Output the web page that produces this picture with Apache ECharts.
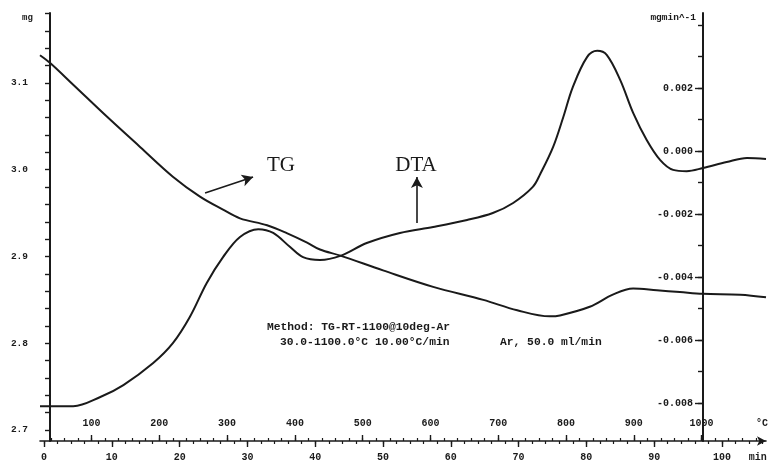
<!DOCTYPE html>
<html>
<head>
<meta charset="utf-8">
<title>TG / DTA</title>
<script src="https://cdn.jsdelivr.net/npm/echarts@6/dist/echarts.min.js"></script>
<style>
  html, body { margin: 0; padding: 0; background: #fff; }
  #chart { width: 776px; height: 463px; }
</style>
</head>
<body>
<div id="chart"></div>
<script>
// TG curve: time (min) vs mass (mg)
const tgTime = [-0.6, 0.9, 4.3, 9.3, 14.2, 19.0, 23.0, 26.4, 28.9, 32.9, 35.8, 38.8, 40.7, 43.7, 50.0,
  57.4, 64.8, 69.8, 74.6, 76.1, 80.5, 83.9, 86.9, 90.4, 93.8, 97.2, 102.7, 106.5];
const tgMass = [3.132, 3.123, 3.098, 3.061, 3.026, 2.992, 2.969, 2.954, 2.944, 2.936, 2.927, 2.916, 2.908, 2.901, 2.884,
  2.865, 2.850, 2.838, 2.831, 2.832, 2.842, 2.856, 2.863, 2.861, 2.859, 2.857, 2.856, 2.853];

// DTA curve: time (min) vs signal (mg/min)
const dtaTime = [-0.6, 4.3, 8.3, 11.7, 16.1, 19.0, 21.5, 24.0, 26.4, 28.9, 31.6, 33.8, 36.3, 38.2, 40.7,
  43.7, 47.6, 52.5, 57.4, 62.4, 66.2, 69.2, 72.1, 73.2, 75.1, 76.6, 78.0, 80.1, 81.6, 83.0,
  85.0, 86.9, 88.9, 90.9, 92.8, 94.8, 97.2, 100.7, 103.7, 106.5];
const dtaSignal = [-0.00810, -0.00810, -0.00781, -0.00743, -0.00673, -0.00610, -0.00527, -0.00419, -0.00337, -0.00273,
  -0.00248, -0.00260, -0.00305, -0.00337, -0.00346, -0.00333, -0.00292, -0.00260, -0.00241, -0.00219,
  -0.00197, -0.00165, -0.00114, -0.00073, 0.00013, 0.00108, 0.00203, 0.00298, 0.00318, 0.00305,
  0.00225, 0.00121, 0.00035, -0.00029, -0.00060, -0.00064, -0.00054, -0.00035, -0.00022, -0.00025];

// tick labels
const massTicks = [2.7, 2.8, 2.9, 3.0, 3.1];
const signalTicks = [-0.008, -0.006, -0.004, -0.002, 0.000, 0.002];
const timeTicks = [0, 10, 20, 30, 40, 50, 60, 70, 80, 90, 100];
const tempTicks = [100, 200, 300, 400, 500, 600, 700, 800, 900, 1000];

const startTemp = 30;   // °C
const heatRate = 10;    // °C/min
const timeMin = -0.6, timeMax = 106.5;
const tempMin = startTemp + heatRate * timeMin;
const tempMax = startTemp + heatRate * timeMax;

const ink = '#1a1a1a';
const tickFont = { fontFamily: 'Liberation Mono', fontWeight: 'bold', fontSize: 10, color: ink };

// minor tick positions
const massMinor = [];
for (let i = 0; i <= 24; i++) massMinor.push(+(2.7 + 0.02 * i).toFixed(2));
const signalMinor = [];
for (let i = -8; i <= 4; i++) signalMinor.push(+(i * 0.001).toFixed(3));
const timeMinor = [];
for (let t = 0; t <= 106; t += 2) timeMinor.push(t);
const tempMinor = [];
for (let T = 40; T <= 1080; T += 20) tempMinor.push(T);

const chart = echarts.init(document.getElementById('chart'));

const hidden = { show: false };
const noLine = { show: false, onZero: false };

chart.setOption({
  animation: false,
  backgroundColor: '#fff',
  grid: { left: 40, right: 10, top: 13, bottom: 22 },
  xAxis: [
    {
      type: 'value', position: 'bottom', min: timeMin, max: timeMax,
      axisLine: { show: true, onZero: false, symbol: ['none', 'arrow'], symbolSize: [7, 9], lineStyle: { color: ink, width: 1.6 } },
      axisTick: { show: true, customValues: timeTicks, length: 6, lineStyle: { color: ink, width: 1.4 } },
      axisLabel: {
        customValues: timeTicks.concat([105.3]), margin: 11, ...tickFont,
        formatter: (v) => (v > 101 ? 'min' : String(v))
      },
      splitLine: hidden
    },
    {
      type: 'value', position: 'bottom', min: timeMin, max: timeMax,
      axisLine: noLine,
      axisTick: { show: true, customValues: timeMinor, length: 3, lineStyle: { color: ink, width: 1.2 } },
      axisLabel: hidden, splitLine: hidden
    },
    {
      type: 'value', position: 'bottom', min: tempMin, max: tempMax,
      axisLine: noLine,
      axisTick: { show: true, inside: true, customValues: tempTicks, length: 6, lineStyle: { color: ink, width: 1.4 } },
      axisLabel: {
        inside: true, customValues: tempTicks.concat([1089]), margin: 13, ...tickFont,
        formatter: (v) => (v > 1010 ? '°C' : String(v))
      },
      splitLine: hidden
    },
    {
      type: 'value', position: 'bottom', min: tempMin, max: tempMax,
      axisLine: noLine,
      axisTick: { show: true, inside: true, customValues: tempMinor, length: 3, lineStyle: { color: ink, width: 1.2 } },
      axisLabel: hidden, splitLine: hidden
    }
  ],
  yAxis: [
    {
      type: 'value', position: 'left', offset: -10, min: 2.6873, max: 3.1807,
      axisLine: { show: true, onZero: false, lineStyle: { color: ink, width: 2 } },
      axisTick: { show: true, customValues: massMinor, length: 5, lineStyle: { color: ink, width: 1.4 } },
      axisLabel: { customValues: massTicks, margin: 22, ...tickFont, fontSize: 9.5, formatter: (v) => v.toFixed(1) },
      splitLine: hidden
    },
    {
      type: 'value', position: 'right', offset: -63, min: -0.009206, max: 0.004381,
      axisLine: { show: true, onZero: false, lineStyle: { color: ink, width: 2 } },
      axisTick: { show: true, inside: true, customValues: signalMinor, length: 5, lineStyle: { color: ink, width: 1.4 } },
      axisLabel: { inside: true, customValues: signalTicks, margin: 10, ...tickFont, formatter: (v) => v.toFixed(3) },
      splitLine: hidden
    },
    {
      type: 'value', position: 'right', offset: -63, min: -0.009206, max: 0.004381,
      axisLine: noLine,
      axisTick: { show: true, inside: true, customValues: signalTicks, length: 8, lineStyle: { color: ink, width: 1.4 } },
      axisLabel: hidden, splitLine: hidden
    }
  ],
  series: [
    {
      name: 'TG', type: 'line', xAxisIndex: 0, yAxisIndex: 0,
      data: tgTime.map((t, i) => [t, tgMass[i]]),
      smooth: 0.35, showSymbol: false, silent: true,
      lineStyle: { color: ink, width: 2 },
      markLine: {
        silent: true, symbol: ['none', 'arrow'], symbolSize: [9, 11],
        label: { show: false },
        lineStyle: { color: ink, width: 1.6, type: 'solid' },
        data: [[{ coord: [23.75, 2.9732] }, { coord: [30.83, 2.9916] }]]
      }
    },
    {
      name: 'DTA', type: 'line', xAxisIndex: 0, yAxisIndex: 1,
      data: dtaTime.map((t, i) => [t, dtaSignal[i]]),
      smooth: 0.35, showSymbol: false, silent: true,
      lineStyle: { color: ink, width: 2 },
      markLine: {
        silent: true, symbol: ['none', 'arrow'], symbolSize: [9, 11],
        label: { show: false },
        lineStyle: { color: ink, width: 1.6, type: 'solid' },
        data: [[{ coord: [55.0, -0.002286] }, { coord: [55.0, -0.000825] }]]
      }
    }
  ],
  graphic: [
    { type: 'text', left: 22, top: 13, style: { text: 'mg', font: 'bold 9px "Liberation Mono"', fill: ink } },
    { type: 'text', style: { x: 696, y: 18, text: 'mgmin^-1', textAlign: 'right', textVerticalAlign: 'middle', font: 'bold 9.5px "Liberation Mono"', fill: ink } },
    { type: 'text', style: { x: 281, y: 165, text: 'TG', textAlign: 'center', textVerticalAlign: 'middle', font: '21px "Liberation Serif"', fill: ink } },
    { type: 'text', style: { x: 416, y: 165, text: 'DTA', textAlign: 'center', textVerticalAlign: 'middle', font: '21px "Liberation Serif"', fill: ink } },
    { type: 'text', style: { x: 267, y: 327, text: 'Method: TG-RT-1100@10deg-Ar', textVerticalAlign: 'middle', font: 'bold 11.3px "Liberation Mono"', fill: ink } },
    { type: 'text', style: { x: 280, y: 342, text: '30.0-1100.0°C 10.00°C/min', textVerticalAlign: 'middle', font: 'bold 11.3px "Liberation Mono"', fill: ink } },
    { type: 'text', style: { x: 500, y: 342, text: 'Ar, 50.0 ml/min', textVerticalAlign: 'middle', font: 'bold 11.3px "Liberation Mono"', fill: ink } }
  ]
});
</script>
</body>
</html>
